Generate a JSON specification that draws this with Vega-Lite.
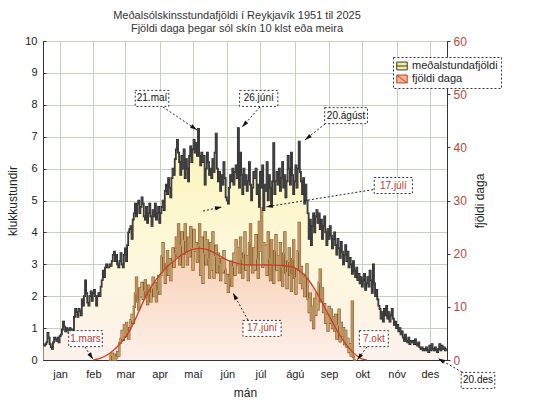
{
"$schema":"https://vega.github.io/schema/vega-lite/v6.json",
"width":404,"height":319,
"autosize":{"type":"none"},
"padding":{"left":43,"top":41,"right":93,"bottom":45},
"background":"#ffffff",
"config":{"font":"Liberation Sans","view":{"fill":"#e3ebd4","stroke":"#333333","strokeWidth":1},
"axis":{"labelFont":"Liberation Sans","titleFont":"Liberation Sans","titleFontWeight":"normal","gridColor":"#c5d0b8","gridWidth":1,"domainColor":"#333333","tickColor":"#333333"}},
"title":{"text":["Meðalsólskinsstundafjöldi í Reykjavík 1951 til 2025","Fjöldi daga þegar sól skín 10 klst eða meira"],"fontSize":11,"fontWeight":"normal","color":"#333333","anchor":"middle","offset":1,"lineHeight":13,"dx":-8},
"datasets":{
"daily":[
{"d":1,"h":0.45},{"d":2,"h":0.45},{"d":3,"h":0.5},{"d":4,"h":0.55},{"d":5,"h":0.85},{"d":6,"h":0.7},{"d":7,"h":0.5},{"d":8,"h":0.4},{"d":9,"h":0.35},{"d":10,"h":0.55},
{"d":11,"h":0.7},{"d":12,"h":0.65},{"d":13,"h":0.6},{"d":14,"h":0.7},{"d":15,"h":0.55},{"d":16,"h":0.75},{"d":17,"h":0.8},{"d":18,"h":0.95},{"d":19,"h":1.2},{"d":20,"h":1.05},
{"d":21,"h":0.9},{"d":22,"h":1.0},{"d":23,"h":0.95},{"d":24,"h":0.85},{"d":25,"h":1.0},{"d":26,"h":0.9},{"d":27,"h":0.95},{"d":28,"h":0.8},{"d":29,"h":1.35},{"d":30,"h":1.6},
{"d":31,"h":1.5},{"d":32,"h":1.35},{"d":33,"h":1.6},{"d":34,"h":1.55},{"d":35,"h":1.4},{"d":36,"h":1.9},{"d":37,"h":1.7},{"d":38,"h":2.0},{"d":39,"h":2.5},{"d":40,"h":2.1},
{"d":41,"h":1.8},{"d":42,"h":1.7},{"d":43,"h":2.0},{"d":44,"h":2.15},{"d":45,"h":1.85},{"d":46,"h":2.1},{"d":47,"h":2.2},{"d":48,"h":2.0},{"d":49,"h":1.7},{"d":50,"h":2.0},
{"d":51,"h":2.1},{"d":52,"h":2.0},{"d":53,"h":2.3},{"d":54,"h":2.5},{"d":55,"h":2.8},{"d":56,"h":2.6},{"d":57,"h":2.9},{"d":58,"h":3.0},{"d":59,"h":2.9},{"d":60,"h":2.9,"n":0},
{"d":61,"h":3.0,"n":0},{"d":62,"h":2.95,"n":0.8},{"d":63,"h":3.1,"n":1.2},{"d":64,"h":3.3,"n":0},{"d":65,"h":3.4,"n":1.0},{"d":66,"h":3.1,"n":0},{"d":67,"h":3.3,"n":0.5},{"d":68,"h":3.0,"n":1.5},{"d":69,"h":2.9,"n":0.8},{"d":70,"h":3.1,"n":3.2},
{"d":71,"h":3.35,"n":4.0},{"d":72,"h":3.0,"n":5.5},{"d":73,"h":2.9,"n":3.8},{"d":74,"h":3.3,"n":6.5},{"d":75,"h":3.5,"n":4.5},{"d":76,"h":3.1,"n":7.0},{"d":77,"h":3.6,"n":5.2},{"d":78,"h":4.0,"n":4.0},{"d":79,"h":4.1,"n":6.0},{"d":80,"h":4.2,"n":7.5},
{"d":81,"h":3.8,"n":8.5},{"d":82,"h":4.4,"n":7.0},{"d":83,"h":4.6,"n":10.0},{"d":84,"h":4.9,"n":12.5},{"d":85,"h":4.5,"n":15.5},{"d":86,"h":4.9,"n":11.0},{"d":87,"h":5.0,"n":9.5},{"d":88,"h":4.6,"n":13.5},{"d":89,"h":4.8,"n":12.0},{"d":90,"h":5.1,"n":14.5},
{"d":91,"h":4.9,"n":11.5},{"d":92,"h":4.5,"n":13.0},{"d":93,"h":4.4,"n":15.0},{"d":94,"h":4.8,"n":12.0},{"d":95,"h":4.3,"n":10.5},{"d":96,"h":4.6,"n":14.0},{"d":97,"h":4.9,"n":12.5},{"d":98,"h":4.5,"n":11.0},{"d":99,"h":4.2,"n":13.5},{"d":100,"h":4.7,"n":15.5},
{"d":101,"h":4.5,"n":12.0},{"d":102,"h":4.9,"n":14.5},{"d":103,"h":4.4,"n":11.0},{"d":104,"h":4.6,"n":13.0},{"d":105,"h":4.8,"n":15.8},{"d":106,"h":4.3,"n":12.5},{"d":107,"h":4.6,"n":16.0},{"d":108,"h":4.8,"n":19.5},{"d":109,"h":5.0,"n":22.0},{"d":110,"h":4.7,"n":17.0},
{"d":111,"h":5.3,"n":14.5},{"d":112,"h":5.5,"n":18.0},{"d":113,"h":5.2,"n":20.5},{"d":114,"h":5.7,"n":16.0},{"d":115,"h":5.4,"n":19.0},{"d":116,"h":5.1,"n":15.0},{"d":117,"h":5.7,"n":18.5},{"d":118,"h":6.0,"n":21.0},{"d":119,"h":5.8,"n":17.5},{"d":120,"h":6.3,"n":20.0},
{"d":121,"h":6.6,"n":23.0},{"d":122,"h":6.9,"n":19.5},{"d":123,"h":6.5,"n":25.5},{"d":124,"h":6.2,"n":18.0},{"d":125,"h":5.8,"n":21.5},{"d":126,"h":6.4,"n":24.0},{"d":127,"h":6.0,"n":17.5},{"d":128,"h":6.6,"n":22.5},{"d":129,"h":5.7,"n":25.5},{"d":130,"h":6.3,"n":20.0},
{"d":131,"h":6.0,"n":18.0},{"d":132,"h":5.6,"n":23.0},{"d":133,"h":6.4,"n":19.5},{"d":134,"h":6.7,"n":25.0},{"d":135,"h":6.2,"n":21.0},{"d":136,"h":6.6,"n":17.0},{"d":137,"h":6.9,"n":24.5},{"d":138,"h":6.5,"n":20.5},{"d":139,"h":6.8,"n":22.0},{"d":140,"h":6.4,"n":18.5},
{"d":141,"h":7.25,"n":21.5},{"d":142,"h":6.4,"n":25.5},{"d":143,"h":6.1,"n":16.0},{"d":144,"h":6.5,"n":23.0},{"d":145,"h":6.2,"n":14.5},{"d":146,"h":6.4,"n":20.0},{"d":147,"h":5.5,"n":24.0},{"d":148,"h":6.0,"n":18.0},{"d":149,"h":6.5,"n":22.5},{"d":150,"h":6.2,"n":19.0},
{"d":151,"h":5.8,"n":15.5},{"d":152,"h":6.0,"n":22.0},{"d":153,"h":5.7,"n":17.0},{"d":154,"h":6.3,"n":24.0},{"d":155,"h":5.9,"n":15.5},{"d":156,"h":6.5,"n":19.5},{"d":157,"h":7.1,"n":21.5},{"d":158,"h":6.0,"n":16.5},{"d":159,"h":5.6,"n":20.0},{"d":160,"h":5.9,"n":18.0},
{"d":161,"h":5.3,"n":15.0},{"d":162,"h":5.8,"n":19.0},{"d":163,"h":5.5,"n":16.5},{"d":164,"h":6.2,"n":20.5},{"d":165,"h":5.7,"n":17.0},{"d":166,"h":5.1,"n":14.5},{"d":167,"h":5.0,"n":16.0},{"d":168,"h":4.9,"n":12.8},{"d":169,"h":5.4,"n":15.5},{"d":170,"h":5.8,"n":18.5},
{"d":171,"h":5.6,"n":14.0},{"d":172,"h":6.0,"n":17.5},{"d":173,"h":5.5,"n":20.0},{"d":174,"h":5.9,"n":16.0},{"d":175,"h":6.1,"n":22.5},{"d":176,"h":5.7,"n":18.0},{"d":177,"h":7.27,"n":21.0},{"d":178,"h":5.4,"n":16.5},{"d":179,"h":6.5,"n":23.0},{"d":180,"h":5.8,"n":19.0},
{"d":181,"h":5.2,"n":15.5},{"d":182,"h":6.0,"n":20.0},{"d":183,"h":5.5,"n":24.0},{"d":184,"h":5.8,"n":17.0},{"d":185,"h":5.3,"n":19.5},{"d":186,"h":5.6,"n":15.0},{"d":187,"h":6.2,"n":22.0},{"d":188,"h":5.5,"n":25.5},{"d":189,"h":5.0,"n":18.0},{"d":190,"h":5.4,"n":16.5},
{"d":191,"h":5.9,"n":21.0},{"d":192,"h":5.7,"n":17.0},{"d":193,"h":6.0,"n":23.5},{"d":194,"h":5.2,"n":19.0},{"d":195,"h":5.5,"n":15.5},{"d":196,"h":4.8,"n":26.0},{"d":197,"h":5.9,"n":20.5},{"d":198,"h":5.4,"n":28.5},{"d":199,"h":6.1,"n":17.5},{"d":200,"h":4.7,"n":22.0},
{"d":201,"h":5.5,"n":18.0},{"d":202,"h":5.3,"n":21.5},{"d":203,"h":6.2,"n":16.0},{"d":204,"h":5.0,"n":24.0},{"d":205,"h":5.8,"n":19.0},{"d":206,"h":5.4,"n":15.0},{"d":207,"h":4.9,"n":22.5},{"d":208,"h":5.6,"n":18.0},{"d":209,"h":6.8,"n":14.5},{"d":210,"h":5.2,"n":20.5},
{"d":211,"h":5.6,"n":23.5},{"d":212,"h":5.9,"n":17.0},{"d":213,"h":5.5,"n":19.5},{"d":214,"h":6.0,"n":15.0},{"d":215,"h":5.3,"n":22.0},{"d":216,"h":5.7,"n":17.5},{"d":217,"h":6.2,"n":14.0},{"d":218,"h":5.4,"n":20.0},{"d":219,"h":5.8,"n":24.0},{"d":220,"h":5.1,"n":16.5},
{"d":221,"h":5.6,"n":13.5},{"d":222,"h":6.4,"n":18.5},{"d":223,"h":6.0,"n":21.0},{"d":224,"h":5.5,"n":16.0},{"d":225,"h":6.5,"n":13.0},{"d":226,"h":5.8,"n":19.0},{"d":227,"h":5.2,"n":22.5},{"d":228,"h":5.6,"n":15.5},{"d":229,"h":6.1,"n":12.5},{"d":230,"h":5.4,"n":17.0},
{"d":231,"h":6.0,"n":20.5},{"d":232,"h":6.85,"n":25.8},{"d":233,"h":5.9,"n":14.5},{"d":234,"h":5.6,"n":17.5},{"d":235,"h":5.2,"n":13.5},{"d":236,"h":5.7,"n":16.0},{"d":237,"h":4.9,"n":12.0},{"d":238,"h":5.5,"n":15.5},{"d":239,"h":5.0,"n":18.0},{"d":240,"h":4.6,"n":11.5},
{"d":241,"h":3.8,"n":9.0},{"d":242,"h":4.4,"n":12.5},{"d":243,"h":3.6,"n":7.5},{"d":244,"h":4.2,"n":10.0},{"d":245,"h":4.6,"n":6.0},{"d":246,"h":4.0,"n":11.5},{"d":247,"h":4.5,"n":8.5},{"d":248,"h":4.7,"n":12.5},{"d":249,"h":4.3,"n":9.5},{"d":250,"h":4.6,"n":14.5},
{"d":251,"h":4.1,"n":17.0},{"d":252,"h":4.4,"n":11.0},{"d":253,"h":3.8,"n":13.5},{"d":254,"h":4.2,"n":9.0},{"d":255,"h":4.5,"n":10.5},{"d":256,"h":4.0,"n":7.0},{"d":257,"h":3.6,"n":8.5},{"d":258,"h":4.1,"n":5.5},{"d":259,"h":3.8,"n":10.0},{"d":260,"h":4.2,"n":7.0},
{"d":261,"h":3.9,"n":9.5},{"d":262,"h":3.5,"n":6.0},{"d":263,"h":3.8,"n":8.0},{"d":264,"h":4.0,"n":5.5},{"d":265,"h":3.6,"n":8.5},{"d":266,"h":3.3,"n":4.0},{"d":267,"h":3.8,"n":6.5},{"d":268,"h":3.5,"n":9.5},{"d":269,"h":3.2,"n":3.5},{"d":270,"h":3.7,"n":7.0},
{"d":271,"h":3.4,"n":4.5},{"d":272,"h":3.0,"n":6.0},{"d":273,"h":3.3,"n":3.0},{"d":274,"h":3.6,"n":5.5},{"d":275,"h":3.1,"n":2.5},{"d":276,"h":3.4,"n":4.0},{"d":277,"h":2.9,"n":1.5},{"d":278,"h":3.2,"n":3.0},{"d":279,"h":3.0,"n":0.8},{"d":280,"h":2.7,"n":11.0},
{"d":281,"h":3.1,"n":0.6},{"d":282,"h":2.8,"n":0},{"d":283,"h":2.6,"n":0},{"d":284,"h":2.9},{"d":285,"h":2.5},{"d":286,"h":2.7},{"d":287,"h":2.4},{"d":288,"h":2.6},{"d":289,"h":2.3},{"d":290,"h":2.5},
{"d":291,"h":2.7},{"d":292,"h":2.2},{"d":293,"h":2.4},{"d":294,"h":2.6},{"d":295,"h":2.3},{"d":296,"h":2.8},{"d":297,"h":2.5},{"d":298,"h":2.1},{"d":299,"h":3.0},{"d":300,"h":2.4},
{"d":301,"h":2.0},{"d":302,"h":2.2},{"d":303,"h":1.9},{"d":304,"h":1.7},{"d":305,"h":1.6},{"d":306,"h":1.3},{"d":307,"h":1.5},{"d":308,"h":1.2},{"d":309,"h":1.6},{"d":310,"h":1.4},
{"d":311,"h":1.7},{"d":312,"h":1.3},{"d":313,"h":1.5},{"d":314,"h":1.2},{"d":315,"h":1.4},{"d":316,"h":1.6},{"d":317,"h":1.3},{"d":318,"h":1.1},{"d":319,"h":1.2},{"d":320,"h":1.0},
{"d":321,"h":1.1},{"d":322,"h":0.9},{"d":323,"h":1.0},{"d":324,"h":0.8},{"d":325,"h":0.9},{"d":326,"h":0.7},{"d":327,"h":0.6},{"d":328,"h":0.8},{"d":329,"h":0.6},{"d":330,"h":0.55},
{"d":331,"h":0.7},{"d":332,"h":0.5},{"d":333,"h":0.6},{"d":334,"h":0.55},{"d":335,"h":0.6},{"d":336,"h":0.5},{"d":337,"h":0.65},{"d":338,"h":0.5},{"d":339,"h":0.45},{"d":340,"h":0.55},
{"d":341,"h":0.4},{"d":342,"h":0.35},{"d":343,"h":0.4},{"d":344,"h":0.3},{"d":345,"h":0.35},{"d":346,"h":0.3},{"d":347,"h":0.4},{"d":348,"h":0.3},{"d":349,"h":0.25},{"d":350,"h":0.45},
{"d":351,"h":0.3},{"d":352,"h":0.5},{"d":353,"h":0.35},{"d":354,"h":0.3},{"d":355,"h":0.4},{"d":356,"h":0.3},{"d":357,"h":0.25},{"d":358,"h":0.35},{"d":359,"h":0.5},{"d":360,"h":0.3},
{"d":361,"h":0.45},{"d":362,"h":0.35},{"d":363,"h":0.4},{"d":364,"h":0.3},{"d":365,"h":0.35}
],
"smooth":[
{"d":46,"n":0},{"d":52,"n":0.3},{"d":58,"n":0.9},{"d":64,"n":1.8},{"d":70,"n":3.0},{"d":76,"n":4.6},{"d":82,"n":6.8},{"d":88,"n":9.6},{"d":94,"n":12.2},{"d":100,"n":14.3},
{"d":106,"n":16.0},{"d":112,"n":17.4},{"d":118,"n":18.5},{"d":124,"n":19.5},{"d":130,"n":20.3},{"d":136,"n":20.8},{"d":142,"n":21.0},{"d":148,"n":20.8},{"d":154,"n":20.3},{"d":160,"n":19.6},
{"d":166,"n":18.9},{"d":172,"n":18.4},{"d":178,"n":18.1},{"d":184,"n":17.9},{"d":195,"n":17.9},{"d":206,"n":17.9},{"d":215,"n":17.8},{"d":224,"n":17.6},{"d":230,"n":17.1},{"d":236,"n":16.1},
{"d":242,"n":14.6},{"d":248,"n":12.6},{"d":254,"n":10.3},{"d":260,"n":7.9},{"d":266,"n":5.6},{"d":272,"n":3.6},{"d":278,"n":2.0},{"d":284,"n":0.8},{"d":290,"n":0.1},{"d":293,"n":0}
],
"notes":[
{"label":"21.maí","c":"k","d":99.0,"h":8.2,"d1":108.9,"h1":7.93,"d2":139.6,"h2":7.21},
{"label":"26.júní","c":"k","d":195.4,"h":8.2,"d1":196.5,"h1":7.93,"d2":180.3,"h2":7.3},
{"label":"20.ágúst","c":"k","d":274.3,"h":7.66,"d1":255.3,"h1":7.4,"d2":237.2,"h2":6.9},
{"label":"17.júlí","c":"r","d":317.0,"h":5.47,"d1":302.3,"h1":5.36,"d2":201.9,"h2":4.8},
{"label":"1.mars","c":"r","d":38.9,"h":0.67,"d1":38.4,"h1":0.41,"d2":45.7,"h2":0.02},
{"label":"17.júní","c":"r","d":198.4,"h":0.99,"d1":185.7,"h1":1.25,"d2":172.2,"h2":2.1},
{"label":"7.okt","c":"r","d":299.4,"h":0.67,"d1":293.2,"h1":0.41,"d2":284.2,"h2":0.0},
{"label":"20.des","c":"k","d":393.5,"h":-0.64,"d1":379.1,"h1":-0.38,"d2":357.4,"h2":0.05},
{"label":"","c":"k","d":150,"h":4.7,"d1":145.1,"h1":4.67,"d2":162.2,"h2":4.8}
],
"leg":[{"s":"meðalstundafjöldi"},{"s":"fjöldi daga"}]
},
"layer":[
{"layer":[
{"data":{"name":"daily"},
"mark":{"type":"area","interpolate":"step","fill":{"gradient":"linear","x1":0,"y1":0,"x2":0,"y2":1,"stops":[{"offset":0,"color":"#fbf4b4"},{"offset":0.55,"color":"#fdf8dc"},{"offset":1,"color":"#fdf1ec"}]}},
"encoding":{
"x":{"field":"d","type":"quantitative","scale":{"domain":[0.5,365.5],"nice":false,"zero":false},
"axis":{"values":[16,46,75,106,136,167,197,228,259,289,320,350],"tickCount":24,"labelExpr":"datum.value < 30 ? 'jan' : datum.value < 60 ? 'feb' : datum.value < 90 ? 'mar' : datum.value < 120 ? 'apr' : datum.value < 150 ? 'maí' : datum.value < 180 ? 'jún' : datum.value < 210 ? 'júl' : datum.value < 240 ? 'ágú' : datum.value < 270 ? 'sep' : datum.value < 300 ? 'okt' : datum.value < 330 ? 'nóv' : 'des'","labelOverlap":false,"labelFlush":false,"labelFontSize":11,"labelColor":"#222222","tickSize":-4,"labelPadding":12,"grid":true,"title":"mán","titleFontSize":12,"titleColor":"#222222","titleY":27}},
"y":{"field":"h","type":"quantitative","scale":{"domain":[0,10],"nice":false},
"axis":{"orient":"left","values":[0,1,2,3,4,5,6,7,8,9,10],"tickCount":20,"format":"d","labelFontSize":11,"labelColor":"#222222","tickSize":-3,"labelPadding":9,"grid":true,"title":"klukkustundir","titleFontSize":12,"titleColor":"#222222","titleX":-31,"titleBaseline":"middle"}}}}
]},
{"layer":[
{"data":{"name":"smooth"},
"mark":{"type":"area","interpolate":"monotone","fill":{"gradient":"linear","x1":0,"y1":0,"x2":0,"y2":1,"stops":[{"offset":0,"color":"#f8cfb3"},{"offset":1,"color":"#fdf0ea"}]}},
"encoding":{
"x":{"field":"d","type":"quantitative","scale":{"domain":[0.5,365.5],"nice":false,"zero":false}},
"y":{"field":"n","type":"quantitative","scale":{"domain":[0,60],"nice":false},
"axis":{"orient":"right","values":[0,10,20,30,40,50,60],"format":"d","labelFontSize":12,"labelColor":"#b5473a","tickSize":3,"labelPadding":3,"grid":false,"domainColor":"#333333","tickColor":"#333333","title":"fjöldi daga","titleFontSize":12,"titleColor":"#222222","titleAngle":270,"titleX":32.5,"titleBaseline":"middle"}}}},
{"data":{"name":"daily"},"transform":[{"filter":"isValid(datum.n)"}],
"mark":{"type":"line","interpolate":"step","color":"#8a5a24","strokeWidth":2.2},
"encoding":{"x":{"field":"d","type":"quantitative","scale":{"domain":[0.5,365.5],"nice":false,"zero":false}},"y":{"field":"n","type":"quantitative"}}},
{"data":{"name":"daily"},"transform":[{"filter":"isValid(datum.n)"}],
"mark":{"type":"line","interpolate":"step","color":"#d8b98c","strokeWidth":0.8},
"encoding":{"x":{"field":"d","type":"quantitative","scale":{"domain":[0.5,365.5],"nice":false,"zero":false}},"y":{"field":"n","type":"quantitative"}}},
{"data":{"name":"smooth"},
"mark":{"type":"line","interpolate":"monotone","color":"#cc3b22","strokeWidth":1.3},
"encoding":{"x":{"field":"d","type":"quantitative","scale":{"domain":[0.5,365.5],"nice":false,"zero":false}},"y":{"field":"n","type":"quantitative"}}}
]},
{"layer":[
{"data":{"name":"daily"},
"mark":{"type":"line","interpolate":"step","color":"#141414","strokeWidth":1.7},
"encoding":{"x":{"field":"d","type":"quantitative","scale":{"domain":[0.5,365.5],"nice":false,"zero":false}},"y":{"field":"h","type":"quantitative","scale":{"domain":[0,10],"nice":false},"axis":null}}},
{"data":{"name":"daily"},
"mark":{"type":"line","interpolate":"step","color":"#7a7a7a","strokeWidth":0.5},
"encoding":{"x":{"field":"d","type":"quantitative","scale":{"domain":[0.5,365.5],"nice":false,"zero":false}},"y":{"field":"h","type":"quantitative","axis":null}}},
{"data":{"name":"notes"},
"mark":{"type":"rule","strokeDash":[2,2],"color":"#222222","strokeWidth":1},
"encoding":{"x":{"field":"d1","type":"quantitative","scale":{"domain":[0.5,365.5],"nice":false,"zero":false}},"y":{"field":"h1","type":"quantitative","axis":null},"x2":{"field":"d2"},"y2":{"field":"h2"}}},
{"data":{"name":"notes"},
"transform":[{"filter":"datum.label != ''"},
{"calculate":"datum.d - (4.6*length(datum.label)+6)/2/1.10685","as":"bx1"},
{"calculate":"datum.d + (4.6*length(datum.label)+6)/2/1.10685","as":"bx2"},
{"calculate":"datum.h - 8/31.9","as":"by1"},
{"calculate":"datum.h + 8/31.9","as":"by2"}],
"mark":{"type":"rect","fill":"#ffffff","stroke":"#333333","strokeWidth":1,"strokeDash":[2,2]},
"encoding":{"x":{"field":"bx1","type":"quantitative","scale":{"domain":[0.5,365.5],"nice":false,"zero":false}},"x2":{"field":"bx2"},"y":{"field":"by1","type":"quantitative","axis":null},"y2":{"field":"by2"}}},
{"data":{"name":"notes"},
"transform":[{"filter":"datum.label != ''"}],
"mark":{"type":"text","fontSize":10,"align":"center","baseline":"middle"},
"encoding":{"x":{"field":"d","type":"quantitative","scale":{"domain":[0.5,365.5],"nice":false,"zero":false}},"y":{"field":"h","type":"quantitative","axis":null},"text":{"field":"label"},
"color":{"condition":{"test":"datum.c == 'r'","value":"#c0392b"},"value":"#111111"}}},
{"data":{"name":"notes"},
"transform":[{"calculate":"(atan2((datum.d2-datum.d1)*1.10685, (datum.h2-datum.h1)*31.9)*180/PI + 360) % 360","as":"ang"}],
"mark":{"type":"point","shape":"M0,0L-0.6,2L0.6,2Z","filled":true,"color":"#111111","size":49,"opacity":1},
"encoding":{"x":{"field":"d2","type":"quantitative","scale":{"domain":[0.5,365.5],"nice":false,"zero":false}},"y":{"field":"h2","type":"quantitative","axis":null},"angle":{"field":"ang","type":"quantitative","scale":null}}},
{"data":{"name":"leg"},
"mark":{"type":"point","filled":true,"opacity":0},
"encoding":{
"fill":{"field":"s","type":"nominal","scale":{"domain":["meðalstundafjöldi","fjöldi daga"],"range":["#f4ee9c","#f2b890"]},
"legend":{"title":null,"orient":"none","legendX":350,"legendY":16,"padding":3,"strokeColor":"#333333","fillColor":"#ffffff","symbolSize":110,"symbolStrokeWidth":1,"symbolOpacity":1,"labelFontSize":11,"labelColor":"#222222","labelOffset":4,"rowPadding":1,"encode":{"legend":{"update":{"strokeDash":{"value":[2,2]}}}}}},
"stroke":{"field":"s","type":"nominal","scale":{"domain":["meðalstundafjöldi","fjöldi daga"],"range":["#3a3a2a","#c8402a"]}},
"shape":{"field":"s","type":"nominal","scale":{"domain":["meðalstundafjöldi","fjöldi daga"],"range":["M-1,-0.75H1V0.75H-1Z M-1,0H1","M-1,-0.75H1V0.75H-1Z M-1,-0.75L1,0.75"]}}}}
]}
],
"resolve":{"scale":{"y":"independent"}}
}
